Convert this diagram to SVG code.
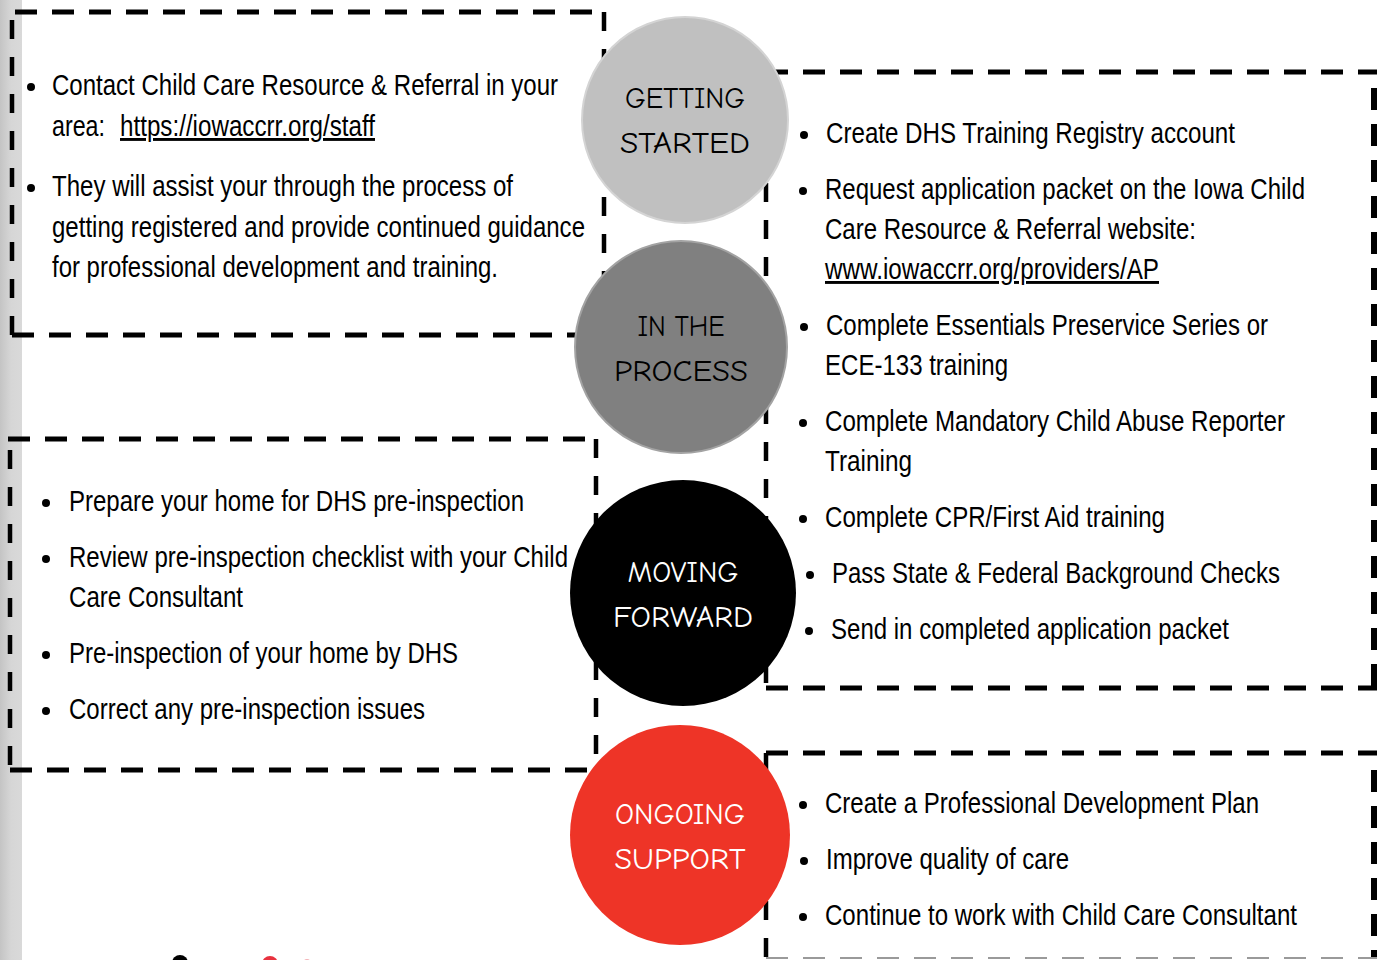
<svg xmlns="http://www.w3.org/2000/svg" width="1387" height="960" viewBox="0 0 1387 960">
<defs>
<linearGradient id="strip" x1="0" y1="0" x2="1" y2="0">
<stop offset="0" stop-color="#c4c4c4"/>
<stop offset="0.5" stop-color="#d6d6d6"/>
<stop offset="1" stop-color="#d9d9d9"/>
</linearGradient>
<style>
.h{stroke:#000;stroke-width:5;stroke-dasharray:22 15;fill:none}
.v{stroke:#000;stroke-width:4.5;stroke-dasharray:19 18;fill:none}
.vr{stroke:#000;stroke-width:6;stroke-dasharray:22 14;fill:none}
.t{font-family:"Liberation Sans Narrow","Liberation Sans",Arial,sans-serif;font-size:29px;fill:#000}
.u{text-decoration:underline}
.lbl{font-family:"Comic Sans MS","Comic Neue","DejaVu Sans",sans-serif;font-size:31px;text-anchor:middle}
</style>
</defs>
<rect width="1387" height="960" fill="#fff"/>
<rect x="0" y="0" width="22" height="960" fill="url(#strip)"/>

<g id="connectors"></g>

<g id="box-getting-started">
<line class="h" x1="15" y1="12" x2="604" y2="12"/>
<line class="v" x1="12" y1="20" x2="12" y2="335"/>
<line class="h" x1="12" y1="335" x2="604" y2="335"/>
<line class="v" x1="604" y1="12" x2="604" y2="335"/>
<circle cx="31" cy="87" r="4"/>
<text class="t" x="52" y="95" textLength="506" lengthAdjust="spacingAndGlyphs">Contact Child Care Resource &amp; Referral in your</text>
<text class="t" x="52" y="136" textLength="53" lengthAdjust="spacingAndGlyphs">area:</text>
<text class="t u" x="120" y="136" textLength="255" lengthAdjust="spacingAndGlyphs">https://iowaccrr.org/staff</text>
<circle cx="31" cy="188" r="4"/>
<text class="t" x="52" y="196" textLength="461" lengthAdjust="spacingAndGlyphs">They will assist your through the process of</text>
<text class="t" x="52" y="237" textLength="533" lengthAdjust="spacingAndGlyphs">getting registered and provide continued guidance</text>
<text class="t" x="52" y="277" textLength="446" lengthAdjust="spacingAndGlyphs">for professional development and training.</text>
</g>

<g id="box-moving-forward">
<line class="h" x1="8" y1="439" x2="596" y2="439"/>
<line class="v" x1="10" y1="450" x2="10" y2="770"/>
<line class="h" x1="10" y1="770" x2="596" y2="770"/>
<line class="v" x1="596" y1="439" x2="596" y2="770"/>
<circle cx="46" cy="503" r="4"/>
<text class="t" x="69" y="511" textLength="455" lengthAdjust="spacingAndGlyphs">Prepare your home for DHS pre-inspection</text>
<circle cx="46" cy="559" r="4"/>
<text class="t" x="69" y="567" textLength="499" lengthAdjust="spacingAndGlyphs">Review pre-inspection checklist with your Child</text>
<text class="t" x="69" y="607" textLength="174" lengthAdjust="spacingAndGlyphs">Care Consultant</text>
<circle cx="46" cy="655" r="4"/>
<text class="t" x="69" y="663" textLength="389" lengthAdjust="spacingAndGlyphs">Pre-inspection of your home by DHS</text>
<circle cx="46" cy="711" r="4"/>
<text class="t" x="69" y="719" textLength="356" lengthAdjust="spacingAndGlyphs">Correct any pre-inspection issues</text>
</g>

<g id="box-in-the-process">
<line class="h" x1="766" y1="72" x2="1377" y2="72"/>
<line class="vr" x1="1374" y1="88" x2="1374" y2="688"/>
<line class="h" x1="766" y1="688" x2="1377" y2="688"/>
<line class="v" x1="766" y1="72" x2="766" y2="688"/>
<circle cx="804" cy="135" r="4"/>
<text class="t" x="826" y="143" textLength="409" lengthAdjust="spacingAndGlyphs">Create DHS Training Registry account</text>
<circle cx="803" cy="191" r="4"/>
<text class="t" x="825" y="199" textLength="480" lengthAdjust="spacingAndGlyphs">Request application packet on the Iowa Child</text>
<text class="t" x="825" y="239" textLength="371" lengthAdjust="spacingAndGlyphs">Care Resource &amp; Referral website:</text>
<text class="t u" x="825" y="279" textLength="334" lengthAdjust="spacingAndGlyphs">www.iowaccrr.org/providers/AP</text>
<circle cx="804" cy="327" r="4"/>
<text class="t" x="826" y="335" textLength="442" lengthAdjust="spacingAndGlyphs">Complete Essentials Preservice Series or</text>
<text class="t" x="825" y="375" textLength="183" lengthAdjust="spacingAndGlyphs">ECE-133 training</text>
<circle cx="803" cy="423" r="4"/>
<text class="t" x="825" y="431" textLength="460" lengthAdjust="spacingAndGlyphs">Complete Mandatory Child Abuse Reporter</text>
<text class="t" x="825" y="471" textLength="87" lengthAdjust="spacingAndGlyphs">Training</text>
<circle cx="803" cy="519" r="4"/>
<text class="t" x="825" y="527" textLength="340" lengthAdjust="spacingAndGlyphs">Complete CPR/First Aid training</text>
<circle cx="810" cy="575" r="4"/>
<text class="t" x="832" y="583" textLength="448" lengthAdjust="spacingAndGlyphs">Pass State &amp; Federal Background Checks</text>
<circle cx="809" cy="631" r="4"/>
<text class="t" x="831" y="639" textLength="398" lengthAdjust="spacingAndGlyphs">Send in completed application packet</text>
</g>

<g id="box-ongoing-support">
<line class="h" x1="766" y1="753" x2="1377" y2="753"/>
<line class="vr" x1="1374" y1="770" x2="1374" y2="958"/>
<line x1="766" y1="958" x2="1377" y2="958" stroke="#9a9a9a" stroke-width="2" stroke-dasharray="22 15"/>
<line class="v" x1="766" y1="753" x2="766" y2="958"/>
<circle cx="803" cy="805" r="4"/>
<text class="t" x="825" y="813" textLength="434" lengthAdjust="spacingAndGlyphs">Create a Professional Development Plan</text>
<circle cx="804" cy="861" r="4"/>
<text class="t" x="826" y="869" textLength="243" lengthAdjust="spacingAndGlyphs">Improve quality of care</text>
<circle cx="803" cy="917" r="4"/>
<text class="t" x="825" y="925" textLength="472" lengthAdjust="spacingAndGlyphs">Continue to work with Child Care Consultant</text>
</g>

<g id="circle-getting-started">
<circle cx="685" cy="120" r="103" fill="#c0c0c0" stroke="#d4d4d4" stroke-width="2"/>
<text class="lbl" x="685" y="108" fill="#000" textLength="120" lengthAdjust="spacingAndGlyphs">GETTING</text>
<text class="lbl" x="685" y="153" fill="#000" textLength="130" lengthAdjust="spacingAndGlyphs">STARTED</text>
</g>

<g id="circle-in-the-process">
<circle cx="681" cy="347" r="106" fill="#808080" stroke="#a3a3a3" stroke-width="2"/>
<text class="lbl" x="681" y="336" fill="#000" textLength="87" lengthAdjust="spacingAndGlyphs">IN THE</text>
<text class="lbl" x="681" y="381" fill="#000" textLength="134" lengthAdjust="spacingAndGlyphs">PROCESS</text>
</g>

<g id="circle-moving-forward">
<circle cx="683" cy="593" r="113" fill="#000"/>
<text class="lbl" x="683" y="582" fill="#fff" textLength="111" lengthAdjust="spacingAndGlyphs">MOVING</text>
<text class="lbl" x="683" y="627" fill="#fff" textLength="140" lengthAdjust="spacingAndGlyphs">FORWARD</text>
</g>

<g id="circle-ongoing-support">
<circle cx="680" cy="835" r="110" fill="#ee3427"/>
<text class="lbl" x="680" y="824" fill="#fff" textLength="130" lengthAdjust="spacingAndGlyphs">ONGOING</text>
<text class="lbl" x="680" y="869" fill="#fff" textLength="131" lengthAdjust="spacingAndGlyphs">SUPPORT</text>
</g>

<g id="logo-fragment">
<ellipse cx="180" cy="963" rx="8" ry="8" fill="#000"/>
<ellipse cx="270" cy="964" rx="8" ry="8" fill="#e8323f"/>
<ellipse cx="307" cy="965" rx="5" ry="6" fill="#f3b0b5"/>
</g>
</svg>
